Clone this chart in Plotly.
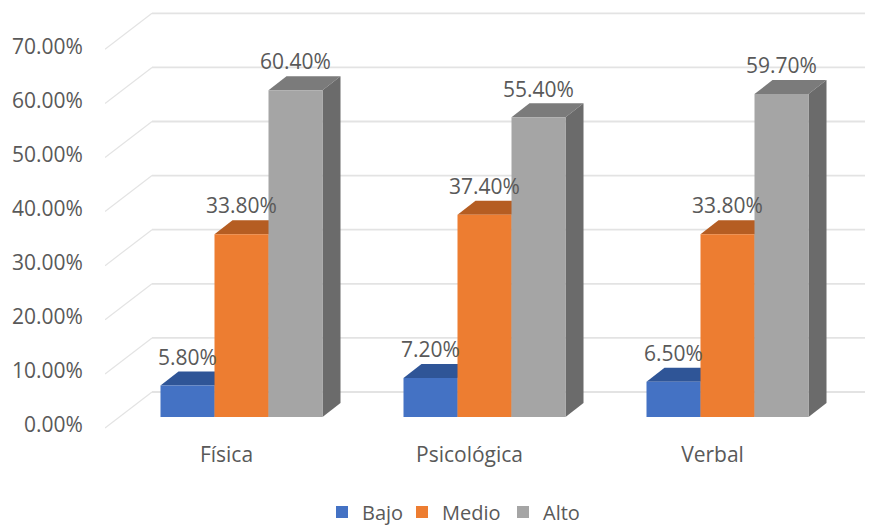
import plotly.graph_objects as go

categories = ["Física", "Psicológica", "Verbal"]
series_names = ["Bajo", "Medio", "Alto"]
bajo = [0.058, 0.072, 0.065]
medio = [0.338, 0.374, 0.338]
alto = [0.604, 0.554, 0.597]
tick_values = [0.0, 0.1, 0.2, 0.3, 0.4, 0.5, 0.6, 0.7]

front_colors = ["#4472C4", "#ED7D31", "#A5A5A5"]
top_colors = ["#2F5597", "#B55D22", "#7B7B7B"]
side_colors = ["#25447A", "#8F4A1B", "#6B6B6B"]

# The page body has an 8 px margin, so the figure starts at page (8, 8).
BODY = 8
PX_PER_X = 243.0
PX_PER_Y = 541.0
PLOT_LEFT = 105.0
PLOT_RIGHT = 873.0
PLOT_TOP = 8.0
PLOT_BOTTOM = 436.0
ZERO_PAGE_Y = 425.0
PLOT_W = PLOT_RIGHT - PLOT_LEFT
PLOT_H = PLOT_BOTTOM - PLOT_TOP

x_range = [-0.5, -0.5 + PLOT_W / PX_PER_X]
y_range = [-(PLOT_BOTTOM - ZERO_PAGE_Y) / PX_PER_Y, (ZERO_PAGE_Y - PLOT_TOP) / PX_PER_Y]

bar_w = 54.0 / PX_PER_X
offsets = [-39.0 / PX_PER_X, 15.0 / PX_PER_X, 69.0 / PX_PER_X]
bar_base = 8.0 / PX_PER_Y
depth_x = 18.0 / PX_PER_X
depth_y = 14.0 / PX_PER_Y
label_gap = 26.0 / PX_PER_Y

wall_front_y = -3.0 / PX_PER_Y
wall_back_y = 33.0 / PX_PER_Y
wall_dx = 47.0 / PX_PER_X

GRID = "#E3E3E3"
TEXT = "#595959"
FONT = "Open Sans"
SIZE = 21
LEGEND_SIZE = 20


def poly(pts, color):
    path = "M " + " L ".join(f"{x:.5f},{y:.5f}" for x, y in pts) + " Z"
    return dict(type="path", path=path, xref="x", yref="y", layer="below",
                fillcolor=color, line=dict(width=0))


shapes = []
for t in tick_values:
    shapes.append(dict(type="line", xref="x", yref="y", layer="below",
                       x0=x_range[0], y0=t + wall_front_y,
                       x1=x_range[0] + wall_dx, y1=t + wall_back_y,
                       line=dict(color=GRID, width=1.2)))
    shapes.append(dict(type="line", xref="x", yref="y", layer="below",
                       x0=x_range[0] + wall_dx, y0=t + wall_back_y,
                       x1=x_range[1], y1=t + wall_back_y,
                       line=dict(color=GRID, width=1.8)))

fig = go.Figure()
all_series = [bajo, medio, alto]
legend_ids = ["legend", "legend2", "legend3"]
for s, (name, values) in enumerate(zip(series_names, all_series)):
    xs = [i + offsets[s] for i in range(len(categories))]
    for xc, v in zip(xs, values):
        x0, x1 = xc - bar_w / 2, xc + bar_w / 2
        top = bar_base + v
        shapes.append(poly([(x0, top), (x1, top), (x1 + depth_x, top + depth_y),
                            (x0 + depth_x, top + depth_y)], top_colors[s]))
        shapes.append(poly([(x1, bar_base), (x1 + depth_x, bar_base + depth_y),
                            (x1 + depth_x, top + depth_y), (x1, top)], side_colors[s]))
    fig.add_trace(go.Bar(x=xs, y=values, base=bar_base, width=bar_w, name=name,
                         marker=dict(color=front_colors[s], line=dict(width=0)),
                         legend=legend_ids[s], hoverinfo="skip"))

for s, values in enumerate(all_series):
    fig.add_trace(go.Scatter(
        x=[i + offsets[s] for i in range(len(categories))],
        y=[v + bar_base + label_gap for v in values],
        mode="text", text=[f"{v:.2%}" for v in values],
        textposition="middle center",
        textfont=dict(family=FONT, size=SIZE, color=TEXT),
        showlegend=False, hoverinfo="skip"))


def legend_at(page_x):
    return dict(orientation="h", x=(page_x - PLOT_LEFT) / PLOT_W, xanchor="left",
                y=(PLOT_BOTTOM - 512.0) / PLOT_H, yanchor="middle",
                font=dict(family=FONT, size=LEGEND_SIZE, color=TEXT),
                itemwidth=30, bgcolor="rgba(0,0,0,0)")


fig.update_layout(
    width=873 - BODY, height=526 - BODY, autosize=False,
    margin=dict(l=PLOT_LEFT - BODY, r=0, t=PLOT_TOP - BODY, b=526 - PLOT_BOTTOM,
                autoexpand=False),
    paper_bgcolor="white", plot_bgcolor="white",
    barmode="overlay", shapes=shapes,
    font=dict(family=FONT, size=SIZE, color=TEXT),
    xaxis=dict(range=x_range, tickmode="array", tickvals=list(range(len(categories))),
               ticktext=categories, showgrid=False, zeroline=False, showline=False,
               ticks="", ticklabelstandoff=4,
               tickfont=dict(family=FONT, size=SIZE, color=TEXT)),
    yaxis=dict(range=y_range, tickmode="array", tickvals=tick_values,
               tickformat=".2%", showgrid=False, zeroline=False, showline=False,
               ticks="outside", ticklen=17, tickcolor="rgba(0,0,0,0)",
               tickfont=dict(family=FONT, size=SIZE, color=TEXT)),
    legend=legend_at(322),
    legend2=legend_at(402),
    legend3=legend_at(503),
)

fig.write_html("out.html")
